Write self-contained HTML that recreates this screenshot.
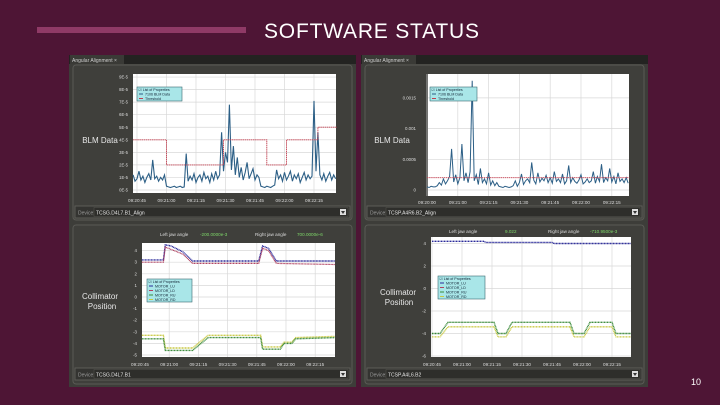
<!DOCTYPE html>
<html><head><meta charset="utf-8"><style>
html,body{margin:0;padding:0;}
body{width:720px;height:405px;background:#4e1535;overflow:hidden;position:relative;font-family:"Liberation Sans",sans-serif;}
svg text{font-family:"Liberation Sans",sans-serif;}
</style></head><body>
<div style="position:absolute;left:37px;top:27px;width:209px;height:6px;background:#8f3a66"></div>
<div style="position:absolute;left:264px;top:20px;font-size:21px;color:#fff;letter-spacing:0.8px;line-height:24px">SOFTWARE STATUS</div>
<div style="position:absolute;left:691px;top:377px;font-size:9px;color:#fff">10</div>
<svg id="s" width="720" height="405" style="position:absolute;left:0;top:0"></svg>
<script>
// ===== Data =====
// BLM left (units 1e-5), t = -2 + i seconds after 09:20:45
const blmLeftValues=[1.2,0.7,0.9,1.5,0.8,1.1,0.6,1.0,1.3,0.8,2.4,0.9,1.1,0.7,1.0,0.8,1.2,
0.3,0.25,0.2,0.25,0.3,0.2,0.25,0.3,0.2,0.25,
2.9,
0.7,1.1,0.8,1.3,0.6,1.0,1.2,0.7,1.4,0.9,1.1,0.6,1.3,0.8,1.5,0.9,1.2,
4.6,1.5,3.0,2.2,6.8,1.6,3.5,1.2,2.6,1.0,1.8,0.8,1.4,2.2,0.9,1.3,1.7,0.8,1.2,1.0,
0.3,0.25,0.2,0.3,0.25,0.2,0.3,0.4,
1.6,0.9,1.2,0.7,1.4,0.8,1.1,1.5,0.7,1.2,0.9,1.3,0.6,1.0,1.4,0.8,1.2,0.9,1.1,
7.1,1.5,4.6,1.2,0.8,1.3,0.7,1.1,1.4,0.8,1.2,0.9];
const blmLeftThreshT=[-2,15,15,44,44,66,66,76,76,92,92,101.5];
const blmLeftThreshV=[4,4,2,2,4,4,2,2,4,4,5,5];
const blmLeftTicks=["0E-5","1E-5","2E-5","3E-5","4E-5","5E-5","6E-5","7E-5","8E-5","9E-5"];
const timeLabels=["09:20:45","09:21:00","09:21:15","09:21:30","09:21:45","09:22:00","09:22:15"];
// BLM right (units 1e-4), t = i
const blmRightValues=[0.5,0.4,0.6,0.5,0.5,0.7,1.2,0.8,1.8,1.0,
1.5,2.2,6.7,1.3,2.5,1.0,2.0,7.5,1.5,2.8,
1.2,3.0,17.8,1.5,2.5,0.9,3.5,1.2,1.8,1.0,
2.8,0.8,1.5,0.7,1.2,0.6,0.5,0.4,0.6,0.5,
0.4,0.5,0.7,1.5,0.6,1.2,2.6,0.9,1.5,1.8,
1.2,4.5,1.6,1.0,2.8,1.3,1.9,1.5,2.4,1.2,
2.0,1.1,3.0,1.4,1.8,1.2,2.6,1.0,1.5,4.0,
1.2,2.0,1.4,1.1,1.6,2.5,1.0,1.3,1.8,1.2,
1.5,3.0,1.1,2.2,1.4,4.2,1.2,2.0,1.5,3.5,
1.3,2.2,1.0,2.8,1.4,1.8,1.2,2.0,1.1];
const blmRightThresh=2.0;
const blmRightTicks=["0","0.0005","0.001","0.0015"];
// Collimator left
const colLT=[1,12,13,16,22,27,36,61,63,66,70,100];
const colLNavy=[3.2,3.2,4.5,4.4,3.9,3.1,3.1,3.1,4.4,4.2,3.1,3.1];
const colLRed=[3.0,3.0,4.3,4.1,3.7,2.9,2.9,2.9,4.2,4.0,2.9,2.8];
const colLT2=[1,12,13,27,35,62,63,72,74,78,80,100];
const colLYellow=[-3.3,-3.3,-4.4,-4.4,-3.3,-3.3,-4.3,-4.3,-3.9,-3.9,-3.5,-3.4];
const colLGreen=[-3.6,-3.6,-4.6,-4.6,-3.5,-3.5,-4.5,-4.5,-4.0,-4.0,-3.6,-3.5];
const colLTicks=[4,3,2,1,0,-1,-2,-3,-4,-5];
// Collimator right
const colRT=[0,26,27,60,61,99.5];
const colRBlue=[4.2,4.2,4.1,4.1,4.0,4.0];
const colRT2=[0,4,8,31,33,37,40,69,71,76,79,90,92,99.5];
const colRGreen=[-4.0,-4.0,-3.0,-3.0,-4.0,-4.0,-3.0,-3.0,-4.0,-4.0,-3.0,-3.0,-4.0,-4.0];
const colRYellow=[-4.3,-4.3,-3.4,-3.4,-4.3,-4.3,-3.4,-3.4,-4.3,-4.3,-3.4,-3.4,-4.3,-4.3];
const colRTicks=[4,2,0,-2,-4,-6];

const S=document.getElementById('s');const NS="http://www.w3.org/2000/svg";
function el(tag,attrs,parent){const e=document.createElementNS(NS,tag);for(const k in attrs)e.setAttribute(k,attrs[k]);(parent||S).appendChild(e);return e;}
function txt(x,y,s,size,fill,anchor,parent){const t=el('text',{x:x,y:y,'font-size':size,fill:fill,'text-anchor':anchor||'start'},parent);t.textContent=s;return t;}
function lin(d0,d1,r0,r1){return v=>r0+(v-d0)*(r1-r0)/(d1-d0);}

function windowFrame(x,y,w,h,name){
  const g=el('g',{});
  
  
  el('rect',{x:x,y:y,width:w,height:h,fill:'#3d3d39'},g);
  el('rect',{x:x,y:y,width:w,height:9,fill:'#232321'},g);
  const tab=el('rect',{x:x+1,y:y,width:54,height:9,fill:'#3a3a36'},g);
  
  
  txt(x+3,y+7,'Angular Alignment   ×',5,'#cfcfcf','start',g);
  return g;
}
function panel(x,y,w,h,name){
  const r=el('rect',{x:x,y:y,width:w,height:h,fill:'#3f3f3b',stroke:'#5a5a55','stroke-width':1,rx:3});
  
  
}
function deviceRow(x,y,w,label){
  const g=el('g',{});
  
  
  el('rect',{x:x,y:y,width:w,height:12,fill:'#343431',stroke:'#5c5c57'},g);
  txt(x+3,y+8.5,'Device:',5,'#999','start',g);
  el('rect',{x:x+19,y:y+1.5,width:w-21,height:9,fill:'#2e2e2b',stroke:'#55554f','stroke-width':0.5},g);
  txt(x+21,y+8.5,label,5,'#e6e6e6','start',g);
  el('rect',{x:x+w-10,y:y+3,width:6,height:6,fill:'#ddd'},g);
  el('path',{d:`M${x+w-9} ${y+5} l4 0 l-2 3z`,fill:'#333'},g);
}
function plotBox(x0,y0,x1,y1,name){
  const r=el('rect',{x:x0,y:y0,width:x1-x0,height:y1-y0,fill:'#ffffff'});
  
  
}
function gridV(xs,y0,y1){xs.forEach(x=>el('line',{x1:x,y1:y0,x2:x,y2:y1,stroke:'#d8d8d8','stroke-width':0.7}));}
function gridH(ys,x0,x1){ys.forEach(y=>el('line',{x1:x0,y1:y,x2:x1,y2:y,stroke:'#d8d8d8','stroke-width':0.7}));}
function poly(pts,color,w,name){
  const p=el('polyline',{points:pts.map(p=>p[0].toFixed(1)+','+p[1].toFixed(1)).join(' '),fill:'none',stroke:color,'stroke-width':w});
  
  
  return p;
}
function legend(x,y,items,w){
  const g=el('g',{});
  
  
  const h=5+items.length*4.5;
  el('rect',{x:x,y:y,width:w,height:h,fill:'#a9e6e8',stroke:'#3a6a70','stroke-width':0.6},g);
  txt(x+1.5,y+4,'☑ List of Properties',3.6,'#123','start',g);
  items.forEach((it,i)=>{
    el('line',{x1:x+2,y1:y+7+i*4.5,x2:x+6,y2:y+7+i*4.5,stroke:it[1],'stroke-width':1},g);
    txt(x+8,y+8.3+i*4.5,it[0],3.6,'#123','start',g);
  });
}

// ===== Windows =====
windowFrame(69,55,287,332,'left-window');
windowFrame(361,55,287,332,'right-window');

// ---- Left top BLM ----
panel(73,65,279,155,'left-blm-panel');
txt(100,143,'BLM Data',8,'#e6e6e6','middle');
{
  const X=lin(0,15,137,166.5), Y=lin(0,1,190,177.45);
  plotBox(133,74,336,193,'left-blm-plot');
  gridV(timeLabels.map((_,i)=>X(i*15)),74,193);
  gridH(blmLeftTicks.map((_,i)=>Y(i)),133,336);
  blmLeftTicks.forEach((s,i)=>txt(128,Y(i)+1.5,s,4.2,'#ddd','end'));
  timeLabels.forEach((s,i)=>txt(X(i*15),202,s,4.6,'#ddd','middle'));
  poly(blmLeftValues.map((v,i)=>[X(-2+i),Y(v)]),'#2c5f86',1.1,'left-blm-series');
  poly(blmLeftThreshT.map((t,i)=>[X(t),Y(blmLeftThreshV[i])]),'#c04050',0.9,'left-threshold-series').setAttribute('stroke-dasharray','1.5 0.6');
  legend(137,87,[['7106 BLM Data','#2c5f86'],['Threshold','#c04050']],45);
}
deviceRow(75,206,275,'TCSG.D4L7.B1_Align');

// ---- Left bottom collimator ----
panel(73,225,279,159,'left-collimator-panel');
txt(160,236,'Left jaw angle',4.6,'#ddd','start');
txt(200,236,'-200.0000e-3',4.6,'#7fd96a','start');
txt(255,236,'Right jaw angle',4.6,'#ddd','start');
txt(297,236,'700.0000e-6',4.6,'#7fd96a','start');
txt(100,299,'Collimator',8,'#e6e6e6','middle');
txt(102,309,'Position',8,'#e6e6e6','middle');
{
  const X=lin(0,15,140,169.2), Y=lin(0,1,297,285.4);
  plotBox(142,243,335,357,'left-collimator-plot');
  gridV(timeLabels.map((_,i)=>X(i*15)).filter(x=>x>142),243,357);
  gridH(colLTicks.map(Y),142,335);
  colLTicks.forEach(v=>txt(137,Y(v)+1.5,String(v),4.4,'#ddd','end'));
  timeLabels.forEach((s,i)=>txt(X(i*15),366,s,4.6,'#ddd','middle'));
  poly(colLT.map((t,i)=>[X(t),Y(colLNavy[i])]),'#2a2a9a',1.4,'left-col-series-1').setAttribute('stroke-dasharray','1 0.5');
  poly(colLT.map((t,i)=>[X(t),Y(colLRed[i])]),'#b04060',1.2,'left-col-series-2').setAttribute('stroke-dasharray','1 0.5');
  poly(colLT2.map((t,i)=>[X(t),Y(colLYellow[i])]),'#c8c840',1.4,'left-col-series-3').setAttribute('stroke-dasharray','1 0.5');
  poly(colLT2.map((t,i)=>[X(t),Y(colLGreen[i])]),'#3a8a3a',1.4,'left-col-series-4').setAttribute('stroke-dasharray','1 0.5');
  legend(147,279,[['MOTOR_LU','#2a2a9a'],['MOTOR_LD','#b04060'],['MOTOR_RU','#3a8a3a'],['MOTOR_RD','#c8c840']],45);
}
deviceRow(75,368,275,'TCSG.D4L7.B1');

// ---- Right top BLM ----
panel(365,65,279,155,'right-blm-panel');
txt(392,143,'BLM Data',8,'#e6e6e6','middle');
{
  const X=lin(0,15,427,457.8), Y=lin(0,5,190,159.3);
  plotBox(428,74,629,196,'right-blm-plot');
  gridV(timeLabels.map((_,i)=>X(i*15)),74,196);
  gridH(blmRightTicks.map((_,i)=>Y(i*5)),428,629);
  blmRightTicks.forEach((s,i)=>txt(416,Y(i*5)+1.5,s,4.4,'#ddd','end'));
  const rt=["09:20:00","09:21:00","09:21:15","09:21:30","09:21:45","09:22:00","09:22:15"];
  rt.forEach((s,i)=>txt(X(i*15),204,s,4.6,'#ddd','middle'));
  poly(blmRightValues.map((v,i)=>[X(i),Y(v)]),'#2c5f86',1.0,'right-blm-series');
  poly([[X(0),Y(blmRightThresh)],[X(98.5),Y(blmRightThresh)]],'#c04050',0.9,'right-threshold-series').setAttribute('stroke-dasharray','1.5 0.6');
  legend(430,87,[['7106 BLM Data','#2c5f86'],['Threshold','#c04050']],47);
}
deviceRow(367,206,275,'TCSP.A4R6.B2_Align');

// ---- Right bottom collimator ----
panel(365,225,279,159,'right-collimator-panel');
txt(449,233,'Left jaw angle',4.6,'#ddd','start');
txt(505,233,'9.022',4.6,'#7fd96a','start');
txt(548,233,'Right jaw angle',4.6,'#ddd','start');
txt(590,233,'-710.9500e-3',4.6,'#7fd96a','start');
txt(398,295,'Collimator',8,'#e6e6e6','middle');
txt(399,305,'Position',8,'#e6e6e6','middle');
{
  const X=lin(0,15,432,462), Y=lin(0,1,288.5,277.25);
  plotBox(431,237,631,357,'right-collimator-plot');
  gridV(timeLabels.map((_,i)=>X(i*15)),237,357);
  gridH(colRTicks.map(Y),431,631);
  colRTicks.forEach(v=>txt(426,Y(v)+1.5,String(v),4.4,'#ddd','end'));
  timeLabels.forEach((s,i)=>txt(X(i*15),366,s,4.6,'#ddd','middle'));
  poly(colRT.map((t,i)=>[X(t),Y(colRBlue[i])]),'#2a2a9a',1.4,'right-col-series-1').setAttribute('stroke-dasharray','1 0.5');
  poly(colRT2.map((t,i)=>[X(t),Y(colRYellow[i])]),'#c8c840',1.3,'right-col-series-3').setAttribute('stroke-dasharray','1 0.5');
  poly(colRT2.map((t,i)=>[X(t),Y(colRGreen[i])]),'#3a8a3a',1.4,'right-col-series-4').setAttribute('stroke-dasharray','1 0.5');
  legend(438,276,[['MOTOR_LU','#2a2a9a'],['MOTOR_LD','#b04060'],['MOTOR_RU','#3a8a3a'],['MOTOR_RD','#c8c840']],47);
}
deviceRow(367,368,275,'TCSP.A4L6.B2');
</script>
</body></html>
